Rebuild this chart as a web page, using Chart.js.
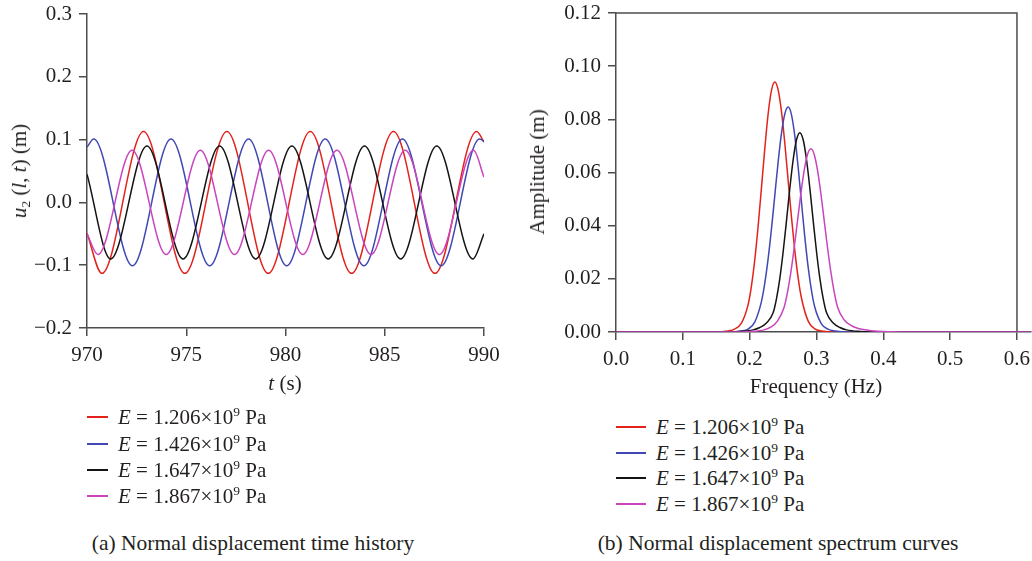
<!DOCTYPE html>
<html>
<head>
<meta charset="utf-8">
<script src="https://cdn.jsdelivr.net/npm/chart.js@4"></script>
<style>
  body { margin:0; width:1032px; height:561px; background:#fff; position:relative; overflow:hidden;
         font-family:"Liberation Serif","DejaVu Serif",serif; font-size:21px; color:#231f20; }
  canvas { position:absolute; top:-30px; }
  #histChart { left:0; }
  #specChart { left:500px; }
  .lbl { position:absolute; white-space:nowrap; line-height:24px; }
  .c { transform: translate(-50%, -50%); }
  .rot { transform: translate(-50%, -50%) rotate(-90deg); }
  .cap { font-size:21.5px; }
  .row { position:absolute; white-space:nowrap; line-height:24px; height:24px; }
  .swatch { position:absolute; height:2px; }
  sup { font-size:13.5px; line-height:0; vertical-align:0; position:relative; top:-8px; }
  sub { font-size:13.5px; line-height:0; vertical-align:0; position:relative; top:4px; }
</style>
</head>
<body>
<canvas id="histChart" width="530" height="430"></canvas>
<canvas id="specChart" width="546" height="430"></canvas>

<div class="lbl rot" style="left:19px; top:171px;"><i>u</i><sub>2</sub> (<i>l</i>, <i>t</i>) (m)</div>
<div class="lbl c" style="left:285px; top:383px;"><i>t</i> (s)</div>
<div class="lbl rot" style="left:537px; top:172px;">Amplitude (m)</div>
<div class="lbl c" style="left:816px; top:386px;">Frequency (Hz)</div>

<div id="histLegend"></div>
<div id="specLegend"></div>

<div class="lbl c cap" style="left:253px; top:543px;">(a) Normal displacement time history</div>
<div class="lbl c cap" style="left:778px; top:543px;">(b) Normal displacement spectrum curves</div>

<script>
// Young's modulus of each case (x10^9 Pa) and line colours
const moduli = ['1.206', '1.426', '1.647', '1.867'];
const colors = ['#e3221b', '#4048b4', '#141414', '#c944bd'];

// (a) time history: [t (s), u2 (m)] read at peaks / troughs and ends
const histRed = [[970.00,-0.049],[970.75,-0.113],[972.85,0.113],[974.93,-0.113],[977.05,0.113],[979.13,-0.113],
  [981.25,0.113],[983.33,-0.113],[985.44,0.113],[987.53,-0.113],[989.63,0.113],[990.00,0.096]];
const histBlue = [[970.00,0.088],[970.34,0.101],[972.29,-0.101],[974.23,0.101],[976.18,-0.101],[978.14,0.101],
  [980.06,-0.101],[982.00,0.101],[983.95,-0.101],[985.89,0.101],[987.84,-0.101],[989.78,0.101],[990.00,0.097]];
const histBlack = [[970.00,0.045],[971.19,-0.090],[973.02,0.090],[974.84,-0.090],[976.68,0.090],[978.50,-0.090],
  [980.32,0.090],[982.15,-0.090],[983.98,0.090],[985.80,-0.090],[987.62,0.090],[989.44,-0.090],[990.00,-0.050]];
const histMagenta = [[970.00,-0.050],[970.55,-0.083],[972.27,0.083],[973.99,-0.083],[975.71,0.083],[977.43,-0.083],
  [979.15,0.083],[980.87,-0.083],[982.59,0.083],[984.31,-0.083],[986.03,0.083],[987.75,-0.083],[989.47,0.083],[990.00,0.040]];

// (b) spectrum: [frequency (Hz), amplitude (m)]
const specRed = [[0,0],[0.12,0],[0.1476,0],[0.1676,0.0004],[0.1776,0.0011],[0.1876,0.0033],[0.1976,0.0102],
  [0.2026,0.0172],[0.2076,0.0270],[0.2126,0.0396],[0.2176,0.0541],[0.2226,0.0688],[0.2276,0.0819],[0.2326,0.0908],
  [0.2376,0.0940],[0.2426,0.0911],[0.2476,0.0830],[0.2526,0.0710],[0.2576,0.0570],[0.2626,0.0431],[0.2676,0.0305],
  [0.2726,0.0203],[0.2776,0.0127],[0.2876,0.0041],[0.2976,0.0012],[0.3076,0.0004],[0.3276,0],[0.621,0]];
const specBlue = [[0,0],[0.12,0],[0.1676,0],[0.1876,0.0004],[0.1976,0.0011],[0.2076,0.0037],[0.2176,0.0114],
  [0.2226,0.0183],[0.2276,0.0275],[0.2326,0.0387],[0.2376,0.0513],[0.2426,0.0639],[0.2476,0.0747],[0.2526,0.0820],
  [0.2576,0.0846],[0.2626,0.0817],[0.2676,0.0737],[0.2726,0.0619],[0.2776,0.0486],[0.2826,0.0356],[0.2876,0.0243],
  [0.2926,0.0155],[0.2976,0.0092],[0.3076,0.0030],[0.3176,0.0010],[0.3276,0.0004],[0.3476,0],[0.621,0]];
const specBlack = [[0,0],[0.12,0],[0.1551,0],[0.1851,0.0002],[0.2051,0.0008],[0.2151,0.0017],[0.2251,0.0034],
  [0.2351,0.0072],[0.2401,0.0125],[0.2451,0.0201],[0.2501,0.0301],[0.2551,0.0418],[0.2601,0.0540],[0.2651,0.0648],
  [0.2701,0.0723],[0.2751,0.0750],[0.2801,0.0723],[0.2851,0.0648],[0.2901,0.0540],[0.2951,0.0418],[0.3001,0.0301],
  [0.3051,0.0201],[0.3101,0.0125],[0.3151,0.0072],[0.3251,0.0034],[0.3351,0.0017],[0.3451,0.0008],[0.3651,0.0002],
  [0.3951,0],[0.621,0]];
const specMagenta = [[0,0],[0.12,0],[0.1716,0],[0.2016,0.0002],[0.2216,0.0008],[0.2316,0.0018],[0.2416,0.0041],
  [0.2516,0.0093],[0.2566,0.0149],[0.2616,0.0224],[0.2666,0.0316],[0.2716,0.0418],[0.2766,0.0520],[0.2816,0.0608],
  [0.2866,0.0668],[0.2916,0.0689],[0.2966,0.0668],[0.3016,0.0608],[0.3066,0.0520],[0.3116,0.0418],[0.3166,0.0316],
  [0.3216,0.0224],[0.3266,0.0149],[0.3316,0.0093],[0.3416,0.0045],[0.3516,0.0025],[0.3616,0.0014],[0.3816,0.0005],
  [0.4116,0.0001],[0.45,0],[0.621,0]];

// tick values
const timeTicks = [970, 975, 980, 985, 990];
const dispTicks = [-0.2, -0.1, 0.0, 0.1, 0.2, 0.3];
const freqTicks = [0.0, 0.1, 0.2, 0.3, 0.4, 0.5, 0.6];
const ampTicks = [0.00, 0.02, 0.04, 0.06, 0.08, 0.10, 0.12];

const axisColor = '#4d4d4d';
Chart.defaults.font.family = '"Liberation Serif", "DejaVu Serif", serif';
Chart.defaults.font.size = 21;
Chart.defaults.color = '#231f20';

const fmt = (v, d) => (v < -1e-9 ? '\u2212' : '') + Math.abs(v).toFixed(d);

function makeDatasets(series) {
  return series.map((s, i) => ({
    data: s.map(p => ({ x: p[0], y: p[1] })),
    borderColor: colors[i],
    borderWidth: 1.5,
    pointRadius: 0,
    fill: false,
    cubicInterpolationMode: 'monotone',
    order: 4 - i
  }));
}

function axis(min, max, ticks, digits, fit) {
  return {
    type: 'linear', min: min, max: max,
    afterBuildTicks: s => { s.ticks = ticks.map(v => ({ value: v })); },
    afterFit: fit,
    grid: { drawOnChartArea: false, tickLength: 8, color: axisColor, lineWidth: 1.5 },
    border: { color: axisColor, width: 1.5 },
    ticks: { padding: 7, maxRotation: 0, autoSkip: false, callback: v => fmt(v, digits) }
  };
}

// canvases sit 30px above the page top so the top tick label has room
new Chart(document.getElementById('histChart'), {
  type: 'line',
  data: { datasets: makeDatasets([histRed, histBlue, histBlack, histMagenta]) },
  options: {
    responsive: false, animation: false,
    layout: { padding: { top: 44, right: 46, left: 0, bottom: 0 } },
    plugins: { legend: { display: false }, tooltip: { enabled: false } },
    scales: {
      x: axis(970, 990, timeTicks, 0, s => { s.height = 72; }),
      y: axis(-0.2, 0.3, dispTicks, 1, s => { s.width = 87; })
    }
  }
});

// top and right border of the spectrum plot, up to 0.6 Hz
const frameBox = {
  id: 'frameBox',
  beforeDatasetsDraw(chart) {
    const { ctx, scales: { x, y } } = chart;
    const x0 = x.getPixelForValue(0), x6 = x.getPixelForValue(0.6);
    const yt = y.getPixelForValue(0.12), yb = y.getPixelForValue(0);
    ctx.save();
    ctx.strokeStyle = axisColor;
    ctx.lineWidth = 1.5;
    ctx.beginPath();
    ctx.moveTo(x0, yt);
    ctx.lineTo(x6, yt);
    ctx.lineTo(x6, yb);
    ctx.stroke();
    ctx.restore();
  }
};

new Chart(document.getElementById('specChart'), {
  type: 'line',
  data: { datasets: makeDatasets([specRed, specBlue, specBlack, specMagenta]) },
  options: {
    responsive: false, animation: false,
    layout: { padding: { top: 43, right: 15, left: 0, bottom: 0 } },
    plugins: { legend: { display: false }, tooltip: { enabled: false } },
    scales: {
      x: axis(0, 0.621, freqTicks, 1, s => { s.height = 68; }),
      y: axis(0, 0.12, ampTicks, 2, s => { s.width = 116; })
    }
  },
  plugins: [frameBox]
});

// HTML legends (italic E, superscript exponent)
function buildLegend(id, lineLeft, lineWidth, textLeft, centers) {
  const box = document.getElementById(id);
  moduli.forEach((m, i) => {
    const sw = document.createElement('div');
    sw.className = 'swatch';
    sw.style.cssText = `left:${lineLeft}px; width:${lineWidth}px; top:${Math.round(centers[i]) - 1}px; background:${colors[i]};`;
    box.appendChild(sw);
    const row = document.createElement('div');
    row.className = 'row';
    row.style.cssText = `left:${textLeft}px; top:${centers[i] - 12}px;`;
    row.innerHTML = `<i>E</i> = ${m}\u00d710<sup>9</sup> Pa`;
    box.appendChild(row);
  });
}
buildLegend('histLegend', 87, 21, 118, [417, 443.5, 470, 496]);
buildLegend('specLegend', 616, 30, 656, [427, 452.5, 478, 503.5]);
</script>
</body>
</html>
